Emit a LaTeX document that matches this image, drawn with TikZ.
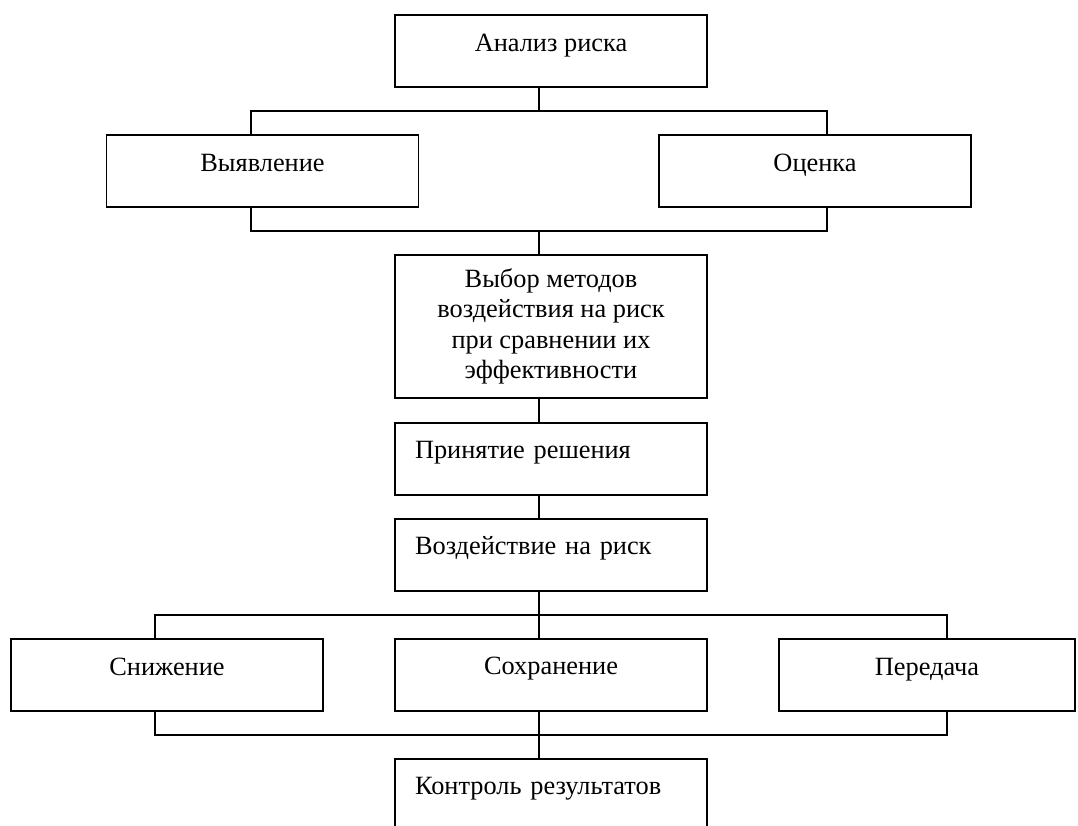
\documentclass[tikz,border=0pt]{standalone}
\usepackage{fontspec}
\setmainfont{Liberation Serif}
\usepackage{tikz}
\usetikzlibrary{positioning}

\begin{document}
\begin{tikzpicture}[x=0.02cm, y=-0.02cm, node distance=0.48cm,
  box/.style={draw, rectangle, line width=1.1pt, outer sep=0pt, minimum width=6.24cm, font=\fontsize{15}{17.25}\selectfont},
  onebox/.style={box, minimum height=1.44cm, text height=0.35cm, text depth=0.35cm},
  leftbox/.style={onebox, text width=5.44cm, inner xsep=0.4cm, align=left},
  wire/.style={line width=1.1pt}]
  \clip (0,0) rectangle (1078,825);

  % Nodes
  \node [onebox] (analiz) at (551,51) {Анализ риска};
  \node [onebox] (vyyav) at (262.5,171) {Выявление};
  \node [onebox] (ocenka) at (815,171) {Оценка};
  \node [box, align=center, minimum height=2.86cm, below=3.36cm of analiz] (vybor)
    {Выбор методов\\воздействия на риск\\при сравнении их\\эффективности};
  \node [leftbox, below=0.5cm of vybor] (prinyatie) {Принятие решения};
  \node [leftbox, below=0.48cm of prinyatie] (vozd) {Воздействие на риск};
  \node [onebox, below=0.96cm of vozd] (sohr) {Сохранение};
  \node [onebox] (snizh) at (167,675) {Снижение};
  \node [onebox, minimum width=5.92cm] (pered) at (927,675) {Передача};
  \node [leftbox, below=0.96cm of sohr] (kontrol) {Контроль результатов};

  % Lines
  \coordinate (spine) at (539,0);
  \coordinate (lx) at (251,0);
  \coordinate (rx) at (827,0);
  \coordinate (llx) at (155,0);
  \coordinate (rrx) at (947,0);

  \draw [wire] (analiz.south -| spine) -- ++(0,24) coordinate (fork1);
  \draw [wire] (vyyav.north -| lx) |- (fork1) -| (ocenka.north -| rx);
  \draw [wire] (vyyav.south -| lx) -- ++(0,24) -| (ocenka.south -| rx);
  \draw [wire] (vybor.north -| spine) -- ++(0,-24);
  \draw [wire] (vybor.south -| spine) -- (prinyatie.north -| spine);
  \draw [wire] (prinyatie.south -| spine) -- (vozd.north -| spine);
  \draw [wire] (vozd.south -| spine) -- (sohr.north -| spine);
  \draw [wire] (snizh.north -| llx) -- ++(0,-24) -| (pered.north -| rrx);
  \draw [wire] (sohr.south -| spine) -- (kontrol.north -| spine);
  \draw [wire] (snizh.south -| llx) -- ++(0,24) -| (pered.south -| rrx);
\end{tikzpicture}
\end{document}
